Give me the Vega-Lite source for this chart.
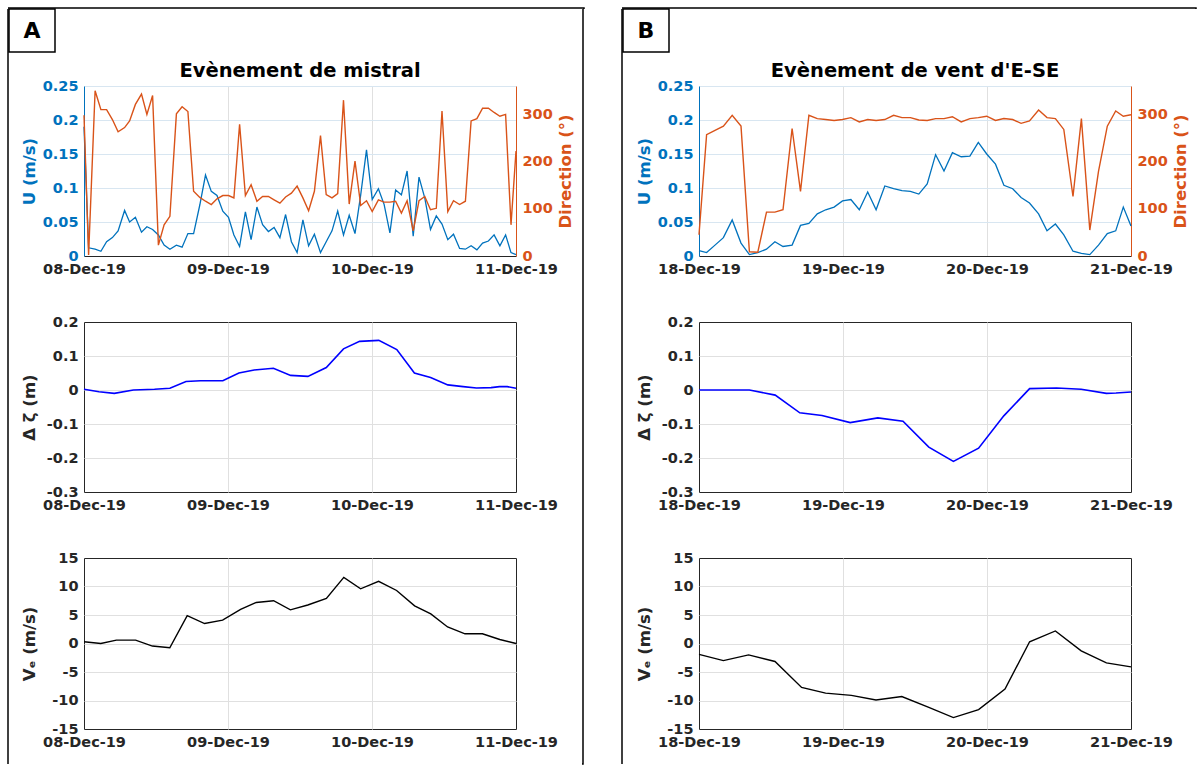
{
  "$schema": "https://vega.github.io/schema/vega-lite/v6.json",
  "padding": {"left": 7, "top": 7, "right": 0, "bottom": 0},
  "background": "white",
  "spacing": 36,
  "config": {
    "font": "DejaVu Sans",
    "view": {"stroke": "#262626", "strokeWidth": 1},
    "axis": {
      "labelFont": "DejaVu Sans", "labelFontSize": 14.5, "labelFontWeight": "bold", "labelColor": "#262626",
      "titleFont": "DejaVu Sans", "titleFontSize": 16.5, "titleFontWeight": "bold", "titleColor": "#262626",
      "ticks": false, "domain": false, "grid": true, "gridColor": "#e0e0e0", "gridWidth": 1,
      "gridOpacity": {"condition": {"test": "datum.index === 0 || datum.index === 1", "value": 0}, "value": 1},
      "labelPadding": 6, "titlePadding": 5
    },
    "axisX": {"labelPadding": 6},
    "title": {"frame": "group"},
    "locale": {"number": {"decimal": ".", "thousands": ",", "grouping": [3], "currency": ["$", ""], "minus": "-"}}
  },
  "datasets": {
    "topA": [
      {"t":"2019-12-08T00:00","U":0.19,"D":298},
      {"t":"2019-12-08T00:46","U":0.012,"D":2},
      {"t":"2019-12-08T01:51","U":0.010,"D":350},
      {"t":"2019-12-08T02:49","U":0.007,"D":310},
      {"t":"2019-12-08T03:46","U":0.021,"D":310},
      {"t":"2019-12-08T04:44","U":0.027,"D":289},
      {"t":"2019-12-08T05:41","U":0.037,"D":263},
      {"t":"2019-12-08T06:46","U":0.067,"D":272},
      {"t":"2019-12-08T07:36","U":0.050,"D":286},
      {"t":"2019-12-08T08:34","U":0.057,"D":321},
      {"t":"2019-12-08T09:35","U":0.035,"D":343},
      {"t":"2019-12-08T10:29","U":0.043,"D":300},
      {"t":"2019-12-08T11:26","U":0.039,"D":340},
      {"t":"2019-12-08T12:24","U":0.031,"D":23},
      {"t":"2019-12-08T13:21","U":0.016,"D":66},
      {"t":"2019-12-08T14:19","U":0.010,"D":84},
      {"t":"2019-12-08T15:24","U":0.016,"D":301},
      {"t":"2019-12-08T16:21","U":0.013,"D":316},
      {"t":"2019-12-08T17:19","U":0.033,"D":306},
      {"t":"2019-12-08T18:16","U":0.033,"D":137},
      {"t":"2019-12-08T19:18","U":0.075,"D":124},
      {"t":"2019-12-08T20:15","U":0.119,"D":116},
      {"t":"2019-12-08T21:13","U":0.095,"D":109},
      {"t":"2019-12-08T22:10","U":0.089,"D":121},
      {"t":"2019-12-08T23:08","U":0.066,"D":128},
      {"t":"2019-12-09T00:05","U":0.057,"D":128},
      {"t":"2019-12-09T00:59","U":0.031,"D":123},
      {"t":"2019-12-09T01:56","U":0.014,"D":279},
      {"t":"2019-12-09T02:54","U":0.065,"D":128},
      {"t":"2019-12-09T03:51","U":0.024,"D":151},
      {"t":"2019-12-09T04:49","U":0.072,"D":116},
      {"t":"2019-12-09T05:46","U":0.046,"D":126},
      {"t":"2019-12-09T06:44","U":0.036,"D":126},
      {"t":"2019-12-09T07:41","U":0.042,"D":119},
      {"t":"2019-12-09T08:39","U":0.027,"D":112},
      {"t":"2019-12-09T09:36","U":0.061,"D":125},
      {"t":"2019-12-09T10:34","U":0.021,"D":133},
      {"t":"2019-12-09T11:31","U":0.005,"D":148},
      {"t":"2019-12-09T12:29","U":0.053,"D":123},
      {"t":"2019-12-09T13:26","U":0.015,"D":96},
      {"t":"2019-12-09T14:24","U":0.032,"D":137},
      {"t":"2019-12-09T15:25","U":0.005,"D":255},
      {"t":"2019-12-09T16:22","U":0.021,"D":130},
      {"t":"2019-12-09T17:20","U":0.037,"D":123},
      {"t":"2019-12-09T18:17","U":0.066,"D":132},
      {"t":"2019-12-09T19:15","U":0.031,"D":330},
      {"t":"2019-12-09T20:12","U":0.060,"D":110},
      {"t":"2019-12-09T21:10","U":0.033,"D":201},
      {"t":"2019-12-09T22:07","U":0.090,"D":107},
      {"t":"2019-12-09T23:05","U":0.156,"D":117},
      {"t":"2019-12-10T00:02","U":0.083,"D":94},
      {"t":"2019-12-10T01:04","U":0.099,"D":119},
      {"t":"2019-12-10T02:01","U":0.076,"D":114},
      {"t":"2019-12-10T02:59","U":0.034,"D":114},
      {"t":"2019-12-10T03:56","U":0.097,"D":116},
      {"t":"2019-12-10T04:54","U":0.090,"D":91},
      {"t":"2019-12-10T05:51","U":0.125,"D":117},
      {"t":"2019-12-10T06:52","U":0.029,"D":53},
      {"t":"2019-12-10T07:50","U":0.116,"D":117},
      {"t":"2019-12-10T08:48","U":0.085,"D":126},
      {"t":"2019-12-10T09:45","U":0.039,"D":98},
      {"t":"2019-12-10T10:43","U":0.059,"D":101},
      {"t":"2019-12-10T11:40","U":0.047,"D":307},
      {"t":"2019-12-10T12:38","U":0.024,"D":94},
      {"t":"2019-12-10T13:35","U":0.032,"D":117},
      {"t":"2019-12-10T14:36","U":0.011,"D":109},
      {"t":"2019-12-10T15:34","U":0.010,"D":116},
      {"t":"2019-12-10T16:31","U":0.015,"D":286},
      {"t":"2019-12-10T17:29","U":0.009,"D":291},
      {"t":"2019-12-10T18:26","U":0.019,"D":313},
      {"t":"2019-12-10T19:24","U":0.022,"D":313},
      {"t":"2019-12-10T20:21","U":0.031,"D":304},
      {"t":"2019-12-10T21:19","U":0.015,"D":296},
      {"t":"2019-12-10T22:16","U":0.031,"D":300},
      {"t":"2019-12-10T23:10","U":0.005,"D":66},
      {"t":"2019-12-11T00:00","U":0.002,"D":222}
    ],
    "midA": [
      {"t":"2019-12-08T00:00","z":0.002},
      {"t":"2019-12-08T02:30","z":-0.005},
      {"t":"2019-12-08T05:03","z":-0.010},
      {"t":"2019-12-08T08:14","z":0.000},
      {"t":"2019-12-08T11:45","z":0.002},
      {"t":"2019-12-08T14:19","z":0.005},
      {"t":"2019-12-08T17:00","z":0.025},
      {"t":"2019-12-08T19:25","z":0.027},
      {"t":"2019-12-08T23:08","z":0.027},
      {"t":"2019-12-09T01:49","z":0.050},
      {"t":"2019-12-09T04:22","z":0.059},
      {"t":"2019-12-09T07:34","z":0.064},
      {"t":"2019-12-09T10:26","z":0.043},
      {"t":"2019-12-09T13:19","z":0.040},
      {"t":"2019-12-09T16:23","z":0.066},
      {"t":"2019-12-09T19:15","z":0.121},
      {"t":"2019-12-09T21:56","z":0.143},
      {"t":"2019-12-10T01:08","z":0.146},
      {"t":"2019-12-10T04:08","z":0.119},
      {"t":"2019-12-10T07:04","z":0.050},
      {"t":"2019-12-10T09:46","z":0.037},
      {"t":"2019-12-10T12:38","z":0.015},
      {"t":"2019-12-10T15:11","z":0.010},
      {"t":"2019-12-10T17:25","z":0.006},
      {"t":"2019-12-10T19:51","z":0.007},
      {"t":"2019-12-10T21:15","z":0.010},
      {"t":"2019-12-10T22:32","z":0.010},
      {"t":"2019-12-11T00:00","z":0.005}
    ],
    "veA": [
      {"t":"2019-12-08T00:00","v":0.3},
      {"t":"2019-12-08T02:48","v":0.0},
      {"t":"2019-12-08T05:24","v":0.6},
      {"t":"2019-12-08T08:36","v":0.6},
      {"t":"2019-12-08T11:24","v":-0.45},
      {"t":"2019-12-08T14:18","v":-0.75},
      {"t":"2019-12-08T17:12","v":4.9},
      {"t":"2019-12-08T20:06","v":3.5},
      {"t":"2019-12-08T23:06","v":4.1},
      {"t":"2019-12-09T02:06","v":6.0},
      {"t":"2019-12-09T04:42","v":7.2},
      {"t":"2019-12-09T07:36","v":7.5},
      {"t":"2019-12-09T10:24","v":5.9},
      {"t":"2019-12-09T13:18","v":6.75},
      {"t":"2019-12-09T16:24","v":7.9},
      {"t":"2019-12-09T19:18","v":11.6},
      {"t":"2019-12-09T22:06","v":9.6},
      {"t":"2019-12-10T01:06","v":10.9},
      {"t":"2019-12-10T04:06","v":9.3},
      {"t":"2019-12-10T07:06","v":6.6},
      {"t":"2019-12-10T09:48","v":5.2},
      {"t":"2019-12-10T12:36","v":2.9},
      {"t":"2019-12-10T15:30","v":1.7},
      {"t":"2019-12-10T18:24","v":1.7},
      {"t":"2019-12-10T21:18","v":0.7},
      {"t":"2019-12-11T00:00","v":0.0}
    ],
    "topB": [
      {"t":"2019-12-18T00:00","U":0.008,"D":45},
      {"t":"2019-12-18T01:16","U":0.005,"D":257},
      {"t":"2019-12-18T02:40","U":0.016,"D":266},
      {"t":"2019-12-18T04:04","U":0.027,"D":275},
      {"t":"2019-12-18T05:32","U":0.053,"D":298},
      {"t":"2019-12-18T07:00","U":0.019,"D":275},
      {"t":"2019-12-18T08:24","U":0.002,"D":9},
      {"t":"2019-12-18T09:48","U":0.005,"D":8},
      {"t":"2019-12-18T11:15","U":0.010,"D":93},
      {"t":"2019-12-18T12:39","U":0.021,"D":93},
      {"t":"2019-12-18T14:00","U":0.014,"D":98},
      {"t":"2019-12-18T15:31","U":0.016,"D":270},
      {"t":"2019-12-18T16:55","U":0.045,"D":137},
      {"t":"2019-12-18T18:19","U":0.048,"D":298},
      {"t":"2019-12-18T19:43","U":0.062,"D":291},
      {"t":"2019-12-18T21:07","U":0.068,"D":289},
      {"t":"2019-12-18T22:31","U":0.072,"D":287},
      {"t":"2019-12-18T23:55","U":0.081,"D":289},
      {"t":"2019-12-19T01:19","U":0.083,"D":293},
      {"t":"2019-12-19T02:43","U":0.068,"D":284},
      {"t":"2019-12-19T04:07","U":0.094,"D":289},
      {"t":"2019-12-19T05:31","U":0.068,"D":287},
      {"t":"2019-12-19T06:58","U":0.103,"D":289},
      {"t":"2019-12-19T08:26","U":0.099,"D":298},
      {"t":"2019-12-19T09:50","U":0.096,"D":293},
      {"t":"2019-12-19T11:14","U":0.095,"D":293},
      {"t":"2019-12-19T12:38","U":0.091,"D":288},
      {"t":"2019-12-19T14:02","U":0.106,"D":287},
      {"t":"2019-12-19T15:26","U":0.149,"D":291},
      {"t":"2019-12-19T16:50","U":0.125,"D":291},
      {"t":"2019-12-19T18:14","U":0.152,"D":295},
      {"t":"2019-12-19T19:42","U":0.146,"D":284},
      {"t":"2019-12-19T21:09","U":0.147,"D":291},
      {"t":"2019-12-19T22:33","U":0.167,"D":293},
      {"t":"2019-12-19T23:57","U":0.150,"D":296},
      {"t":"2019-12-20T01:25","U":0.135,"D":287},
      {"t":"2019-12-20T02:49","U":0.104,"D":291},
      {"t":"2019-12-20T04:17","U":0.099,"D":289},
      {"t":"2019-12-20T05:41","U":0.086,"D":281},
      {"t":"2019-12-20T07:05","U":0.078,"D":286},
      {"t":"2019-12-20T08:36","U":0.062,"D":309},
      {"t":"2019-12-20T10:00","U":0.037,"D":293},
      {"t":"2019-12-20T11:24","U":0.047,"D":291},
      {"t":"2019-12-20T12:48","U":0.031,"D":268},
      {"t":"2019-12-20T14:20","U":0.007,"D":126},
      {"t":"2019-12-20T15:44","U":0.004,"D":291},
      {"t":"2019-12-20T17:08","U":0.002,"D":55},
      {"t":"2019-12-20T18:35","U":0.016,"D":179},
      {"t":"2019-12-20T20:03","U":0.033,"D":275},
      {"t":"2019-12-20T21:27","U":0.037,"D":307},
      {"t":"2019-12-20T22:43","U":0.072,"D":296},
      {"t":"2019-12-21T00:00","U":0.044,"D":299}
    ],
    "midB": [
      {"t":"2019-12-18T00:00","z":0.0},
      {"t":"2019-12-18T08:24","z":0.0},
      {"t":"2019-12-18T12:42","z":-0.015},
      {"t":"2019-12-18T16:48","z":-0.067},
      {"t":"2019-12-18T20:30","z":-0.075},
      {"t":"2019-12-19T01:12","z":-0.096},
      {"t":"2019-12-19T05:48","z":-0.082},
      {"t":"2019-12-19T10:00","z":-0.092},
      {"t":"2019-12-19T14:18","z":-0.168},
      {"t":"2019-12-19T18:24","z":-0.210},
      {"t":"2019-12-19T22:36","z":-0.171},
      {"t":"2019-12-20T02:48","z":-0.076},
      {"t":"2019-12-20T07:06","z":0.004},
      {"t":"2019-12-20T11:36","z":0.006},
      {"t":"2019-12-20T15:42","z":0.002},
      {"t":"2019-12-20T19:54","z":-0.010},
      {"t":"2019-12-20T21:30","z":-0.009},
      {"t":"2019-12-21T00:00","z":-0.006}
    ],
    "veB": [
      {"t":"2019-12-18T00:00","v":-1.9},
      {"t":"2019-12-18T04:04","v":-3.0},
      {"t":"2019-12-18T08:16","v":-2.0},
      {"t":"2019-12-18T12:40","v":-3.15},
      {"t":"2019-12-18T17:06","v":-7.7},
      {"t":"2019-12-18T21:06","v":-8.7},
      {"t":"2019-12-19T01:24","v":-9.1},
      {"t":"2019-12-19T05:30","v":-9.9},
      {"t":"2019-12-19T09:48","v":-9.3},
      {"t":"2019-12-19T14:18","v":-11.2},
      {"t":"2019-12-19T18:24","v":-13.0},
      {"t":"2019-12-19T22:36","v":-11.6},
      {"t":"2019-12-20T03:00","v":-8.0},
      {"t":"2019-12-20T07:06","v":0.3},
      {"t":"2019-12-20T11:24","v":2.2},
      {"t":"2019-12-20T15:42","v":-1.3},
      {"t":"2019-12-20T19:54","v":-3.4},
      {"t":"2019-12-21T00:00","v":-4.1}
    ],
    "labA": [{"lab":"A"}],
    "labB": [{"lab":"B"}],
    "empty": []
  },
  "hconcat": [
    {
      "vconcat": [
        {"width": 576, "height": 1, "data": {"name": "empty"}, "mark": "text",
         "view": {"stroke": "#000000", "strokeWidth": 1.5, "fill": null, "strokeDash": [577, 3000]}},
        {
          "hconcat": [
            {"width": 1, "height": 755, "data": {"name": "empty"}, "mark": "text",
             "view": {"stroke": "#000000", "strokeWidth": 1.5, "fill": null, "strokeDash": [0, 757, 755, 1]}},
            {
              "hconcat": [
                {"width": 46, "height": 43, "data": {"name": "labA"},
                 "mark": {"type": "text", "fontSize": 22, "fontWeight": "bold", "font": "DejaVu Sans", "color": "#000000"},
                 "encoding": {"text": {"field": "lab"}},
                 "view": {"stroke": "#000000", "strokeWidth": 1.5}},
                {
                  "hconcat": [
                    {
                      "vconcat": [
                        {"width": 432, "height": 11, "data": {"name": "empty"}, "mark": "text", "view": {"stroke": null}},
                        {
                          "width": 432, "height": 170, "data": {"name": "topA"},
                          "title": {"text": "Evènement de mistral", "fontSize": 19.5, "fontWeight": "bold", "color": "#000000", "font": "DejaVu Sans", "offset": -3, "frame": "group"},
                          "view": {"stroke": null},
                          "encoding": {"x": {"field": "t", "type": "temporal", "title": null,
                            "scale": {"domain": [{"year": 2019, "month": 12, "date": 8}, {"year": 2019, "month": 12, "date": 11}], "nice": false},
                            "axis": {"values": [{"year": 2019, "month": 12, "date": 8}, {"year": 2019, "month": 12, "date": 9}, {"year": 2019, "month": 12, "date": 10}, {"year": 2019, "month": 12, "date": 11}],
                              "format": "%d-%b-%y", "labelFlush": false, "labelOverlap": false, "domain": true, "domainColor": "#262626", "domainWidth": 1}}},
                          "layer": [
                            {"mark": {"type": "line", "color": "#0072BD", "strokeWidth": 1.3},
                             "encoding": {"y": {"field": "U", "type": "quantitative", "title": "U (m/s)",
                               "scale": {"domain": [0, 0.25], "nice": false, "zero": false},
                               "axis": {"values": [0, 0.05, 0.1, 0.15, 0.2, 0.25], "format": "~g", "domain": true, "domainColor": "#0072BD",
                                 "labelColor": "#0072BD", "titleColor": "#0072BD", "gridColor": "#d8e6f1", "gridOpacity": 1, "minExtent": 42, "maxExtent": 42}}}},
                            {"mark": {"type": "line", "color": "#D95319", "strokeWidth": 1.4},
                             "encoding": {"y": {"field": "D", "type": "quantitative", "title": "Direction (°)",
                               "scale": {"domain": [0, 360], "nice": false, "zero": false},
                               "axis": {"orient": "right", "values": [0, 100, 200, 300], "format": "d", "grid": false, "domain": true, "domainColor": "#D95319",
                                 "labelColor": "#D95319", "titleColor": "#D95319", "titleAngle": 270, "titleBaseline": "top"}}}}
                          ],
                          "resolve": {"scale": {"y": "independent"}}
                        },
                        {
                          "width": 432, "height": 170, "data": {"name": "midA"},
                          "mark": {"type": "line", "color": "#0000FF", "strokeWidth": 1.6},
                          "encoding": {
                            "x": {"field": "t", "type": "temporal", "title": null,
                              "scale": {"domain": [{"year": 2019, "month": 12, "date": 8}, {"year": 2019, "month": 12, "date": 11}], "nice": false},
                              "axis": {"values": [{"year": 2019, "month": 12, "date": 8}, {"year": 2019, "month": 12, "date": 9}, {"year": 2019, "month": 12, "date": 10}, {"year": 2019, "month": 12, "date": 11}],
                                "format": "%d-%b-%y", "labelFlush": false, "labelOverlap": false}},
                            "y": {"field": "z", "type": "quantitative", "title": "Δ ζ (m)",
                              "scale": {"domain": [-0.3, 0.2], "nice": false, "zero": false},
                              "axis": {"values": [-0.3, -0.2, -0.1, 0, 0.1, 0.2], "format": "~g", "minExtent": 42, "maxExtent": 42}}
                          }
                        },
                        {
                          "width": 432, "height": 171, "data": {"name": "veA"},
                          "mark": {"type": "line", "color": "#000000", "strokeWidth": 1.4},
                          "encoding": {
                            "x": {"field": "t", "type": "temporal", "title": null,
                              "scale": {"domain": [{"year": 2019, "month": 12, "date": 8}, {"year": 2019, "month": 12, "date": 11}], "nice": false},
                              "axis": {"values": [{"year": 2019, "month": 12, "date": 8}, {"year": 2019, "month": 12, "date": 9}, {"year": 2019, "month": 12, "date": 10}, {"year": 2019, "month": 12, "date": 11}],
                                "format": "%d-%b-%y", "labelFlush": false, "labelOverlap": false}},
                            "y": {"field": "v", "type": "quantitative", "title": "Vₑ (m/s)",
                              "scale": {"domain": [-15, 15], "nice": false, "zero": false},
                              "axis": {"values": [-15, -10, -5, 0, 5, 10, 15], "format": "d", "minExtent": 42, "maxExtent": 42}}
                          }
                        }
                      ],
                      "spacing": 66, "bounds": "flush"
                    },
                    {"width": 1, "height": 755, "data": {"name": "empty"}, "mark": "text",
                     "view": {"stroke": "#000000", "strokeWidth": 1.5, "fill": null, "strokeDash": [0, 1, 756, 3000]}}
                  ],
                  "spacing": 498, "bounds": "flush"
                }
              ],
              "spacing": 29, "bounds": "flush"
            }
          ],
          "spacing": 0, "bounds": "flush"
        }
      ],
      "spacing": 0, "bounds": "flush"
    },
    {
      "vconcat": [
        {"width": 574, "height": 1, "data": {"name": "empty"}, "mark": "text",
         "view": {"stroke": "#000000", "strokeWidth": 1.5, "fill": null, "strokeDash": [575, 3000]}},
        {
          "hconcat": [
            {"width": 1, "height": 755, "data": {"name": "empty"}, "mark": "text",
             "view": {"stroke": "#000000", "strokeWidth": 1.5, "fill": null, "strokeDash": [0, 757, 755, 1]}},
            {
              "hconcat": [
                {"width": 46, "height": 43, "data": {"name": "labB"},
                 "mark": {"type": "text", "fontSize": 22, "fontWeight": "bold", "font": "DejaVu Sans", "color": "#000000"},
                 "encoding": {"text": {"field": "lab"}},
                 "view": {"stroke": "#000000", "strokeWidth": 1.5}},
                {
                  "vconcat": [
                    {"width": 432, "height": 11, "data": {"name": "empty"}, "mark": "text", "view": {"stroke": null}},
                    {
                      "width": 432, "height": 170, "data": {"name": "topB"},
                      "title": {"text": "Evènement de vent d'E-SE", "fontSize": 19.5, "fontWeight": "bold", "color": "#000000", "font": "DejaVu Sans", "offset": -3, "frame": "group"},
                      "view": {"stroke": null},
                      "encoding": {"x": {"field": "t", "type": "temporal", "title": null,
                        "scale": {"domain": [{"year": 2019, "month": 12, "date": 18}, {"year": 2019, "month": 12, "date": 21}], "nice": false},
                        "axis": {"values": [{"year": 2019, "month": 12, "date": 18}, {"year": 2019, "month": 12, "date": 19}, {"year": 2019, "month": 12, "date": 20}, {"year": 2019, "month": 12, "date": 21}],
                          "format": "%d-%b-%y", "labelFlush": false, "labelOverlap": false, "domain": true, "domainColor": "#262626", "domainWidth": 1}}},
                      "layer": [
                        {"mark": {"type": "line", "color": "#0072BD", "strokeWidth": 1.3},
                         "encoding": {"y": {"field": "U", "type": "quantitative", "title": "U (m/s)",
                           "scale": {"domain": [0, 0.25], "nice": false, "zero": false},
                           "axis": {"values": [0, 0.05, 0.1, 0.15, 0.2, 0.25], "format": "~g", "domain": true, "domainColor": "#0072BD",
                             "labelColor": "#0072BD", "titleColor": "#0072BD", "gridColor": "#d8e6f1", "gridOpacity": 1, "minExtent": 42, "maxExtent": 42}}}},
                        {"mark": {"type": "line", "color": "#D95319", "strokeWidth": 1.4},
                         "encoding": {"y": {"field": "D", "type": "quantitative", "title": "Direction (°)",
                           "scale": {"domain": [0, 360], "nice": false, "zero": false},
                           "axis": {"orient": "right", "values": [0, 100, 200, 300], "format": "d", "grid": false, "domain": true, "domainColor": "#D95319",
                             "labelColor": "#D95319", "titleColor": "#D95319", "titleAngle": 270, "titleBaseline": "top"}}}}
                      ],
                      "resolve": {"scale": {"y": "independent"}}
                    },
                    {
                      "width": 432, "height": 170, "data": {"name": "midB"},
                      "mark": {"type": "line", "color": "#0000FF", "strokeWidth": 1.6},
                      "encoding": {
                        "x": {"field": "t", "type": "temporal", "title": null,
                          "scale": {"domain": [{"year": 2019, "month": 12, "date": 18}, {"year": 2019, "month": 12, "date": 21}], "nice": false},
                          "axis": {"values": [{"year": 2019, "month": 12, "date": 18}, {"year": 2019, "month": 12, "date": 19}, {"year": 2019, "month": 12, "date": 20}, {"year": 2019, "month": 12, "date": 21}],
                            "format": "%d-%b-%y", "labelFlush": false, "labelOverlap": false}},
                        "y": {"field": "z", "type": "quantitative", "title": "Δ ζ (m)",
                          "scale": {"domain": [-0.3, 0.2], "nice": false, "zero": false},
                          "axis": {"values": [-0.3, -0.2, -0.1, 0, 0.1, 0.2], "format": "~g", "minExtent": 42, "maxExtent": 42}}
                      }
                    },
                    {
                      "width": 432, "height": 171, "data": {"name": "veB"},
                      "mark": {"type": "line", "color": "#000000", "strokeWidth": 1.4},
                      "encoding": {
                        "x": {"field": "t", "type": "temporal", "title": null,
                          "scale": {"domain": [{"year": 2019, "month": 12, "date": 18}, {"year": 2019, "month": 12, "date": 21}], "nice": false},
                          "axis": {"values": [{"year": 2019, "month": 12, "date": 18}, {"year": 2019, "month": 12, "date": 19}, {"year": 2019, "month": 12, "date": 20}, {"year": 2019, "month": 12, "date": 21}],
                            "format": "%d-%b-%y", "labelFlush": false, "labelOverlap": false}},
                        "y": {"field": "v", "type": "quantitative", "title": "Vₑ (m/s)",
                          "scale": {"domain": [-15, 15], "nice": false, "zero": false},
                          "axis": {"values": [-15, -10, -5, 0, 5, 10, 15], "format": "d", "minExtent": 42, "maxExtent": 42}}
                      }
                    }
                  ],
                  "spacing": 66, "bounds": "flush"
                }
              ],
              "spacing": 30, "bounds": "flush"
            }
          ],
          "spacing": 0, "bounds": "flush"
        }
      ],
      "spacing": 0, "bounds": "flush"
    }
  ]
}
